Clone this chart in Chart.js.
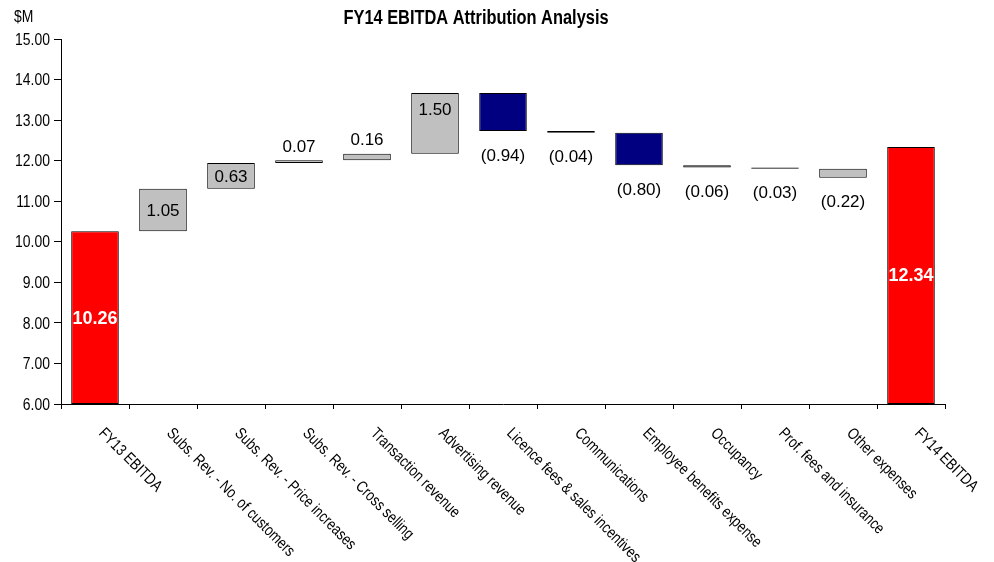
<!DOCTYPE html>
<html>
<head>
<meta charset="utf-8">
<script src="https://cdn.jsdelivr.net/npm/chart.js@4/dist/chart.umd.min.js"></script>
<style>
  html, body { margin: 0; padding: 0; background: #fff; }
  #wrap { width: 994px; height: 562px; position: relative; }
</style>
</head>
<body>
<div id="wrap"><canvas id="c" width="994" height="562"></canvas></div>
<script>
// EBITDA bridge: opening total, movements, closing total
const categories = [
  'FY13 EBITDA',
  'Subs. Rev. - No. of customers',
  'Subs. Rev. - Price increases',
  'Subs. Rev. - Cross selling',
  'Transaction revenue',
  'Advertising revenue',
  'Licence fees & sales incentives',
  'Communications',
  'Employee benefits expense',
  'Occupancy',
  'Prof. fees and insurance',
  'Other expenses',
  'FY14 EBITDA'
];
const openingEbitda = 10.26;
const movements = [1.05, 0.63, 0.07, 0.16, 1.50, -0.94, -0.04, -0.80, -0.06, -0.03, -0.22];
const closingEbitda = 12.34;
// movements shown in the darker colour
const majorCostItems = ['Licence fees & sales incentives', 'Employee benefits expense'];

const yMin = 6, yMax = 15, yStep = 1;

const SANS = "'Liberation Sans', Arial, sans-serif";
const NARROW_SCALE = 0.82; // horizontal squeeze giving a condensed face

// floating ranges for each bar
const ranges = [];
const kinds = [];
ranges.push([yMin, openingEbitda]);
kinds.push('total');
let running = openingEbitda;
movements.forEach(m => {
  const next = running + m;
  ranges.push([Math.min(running, next), Math.max(running, next)]);
  kinds.push(m >= 0 ? 'up' : 'down');
  running = next;
});
ranges.push([yMin, closingEbitda]);
kinds.push('total');

const colors = categories.map((c, i) => {
  if (kinds[i] === 'total') return '#FF0000';
  if (majorCostItems.includes(c)) return '#000080';
  return '#C0C0C0';
});

function fmt(v) {
  const s = Math.abs(v).toFixed(2);
  return v < 0 ? '(' + s + ')' : s;
}

function narrowText(ctx, text, x, y, align, font, angle) {
  ctx.save();
  ctx.translate(x, y);
  if (angle) ctx.rotate(angle);
  ctx.scale(NARROW_SCALE, 1);
  ctx.font = font;
  ctx.textAlign = align;
  ctx.textBaseline = 'middle';
  ctx.fillStyle = '#000000';
  ctx.fillText(text, 0, 0);
  ctx.restore();
}

const labelPlugin = {
  id: 'bridgeLabels',
  afterDatasetsDraw(chart) {
    const ctx = chart.ctx;
    const meta = chart.getDatasetMeta(0);
    const y = chart.scales.y;
    ctx.save();
    meta.data.forEach((bar, i) => {
      const top = y.getPixelForValue(ranges[i][1]);
      const bottom = y.getPixelForValue(ranges[i][0]);
      const h = bottom - top;
      ctx.textAlign = 'center';
      ctx.textBaseline = 'middle';
      if (kinds[i] === 'total') {
        const v = i === 0 ? openingEbitda : closingEbitda;
        ctx.font = 'bold 18px ' + SANS;
        ctx.fillStyle = '#FFFFFF';
        ctx.fillText(v.toFixed(2), bar.x, (top + bottom) / 2 + 1);
      } else {
        const m = movements[i - 1];
        ctx.font = '17px ' + SANS;
        ctx.fillStyle = '#000000';
        let ly;
        if (m >= 0) {
          if (h < 20) ly = top - 13;
          else if (h > 50) ly = top + 17;
          else ly = (top + bottom) / 2 + 1;
        } else {
          ly = bottom + 25;
        }
        ctx.fillText(fmt(m), bar.x, ly);
      }
    });
    ctx.restore();
  },
  afterDraw(chart) {
    const ctx = chart.ctx;
    const x = chart.scales.x;
    const y = chart.scales.y;
    const area = chart.chartArea;
    // value axis labels
    y.ticks.forEach(t => {
      narrowText(ctx, Number(t.value).toFixed(2), y.right - 11, y.getPixelForValue(t.value) + 1, 'right', '17px ' + SANS);
    });
    // rotated category labels
    categories.forEach((c, i) => {
      const px = x.getPixelForValue(i);
      narrowText(ctx, c, px + 6, area.bottom + 27, 'left', '16px ' + SANS, Math.PI / 4);
    });
    // title and unit
    narrowText(ctx, 'FY14 EBITDA Attribution Analysis', 476, 18, 'center', 'bold 20px ' + SANS);
    narrowText(ctx, '$M', 14, 17, 'left', '17px ' + SANS);
  }
};

new Chart(document.getElementById('c'), {
  type: 'bar',
  data: {
    labels: categories,
    datasets: [{
      data: ranges,
      backgroundColor: colors,
      borderColor: '#000000',
      borderWidth: 1,
      borderSkipped: false,
      barPercentage: 0.7,
      categoryPercentage: 1.0
    }]
  },
  options: {
    responsive: false,
    animation: false,
    devicePixelRatio: 1,
    layout: { padding: { top: 39, right: 49, left: 0, bottom: 0 } },
    plugins: {
      legend: { display: false },
      tooltip: { enabled: false },
      title: { display: false }
    },
    scales: {
      x: {
        offset: true,
        grid: {
          offset: true,
          drawOnChartArea: false,
          drawTicks: true,
          tickLength: 5,
          color: '#000000'
        },
        border: { color: '#000000', width: 1 },
        ticks: { display: false },
        afterFit(s) { s.height = 158; }
      },
      y: {
        min: yMin,
        max: yMax,
        grid: {
          drawOnChartArea: false,
          drawTicks: true,
          tickLength: 7,
          color: '#000000'
        },
        border: { color: '#000000', width: 1 },
        ticks: { display: false, stepSize: yStep },
        afterFit(s) { s.width = 61; }
      }
    }
  },
  plugins: [labelPlugin]
});
</script>
</body>
</html>
